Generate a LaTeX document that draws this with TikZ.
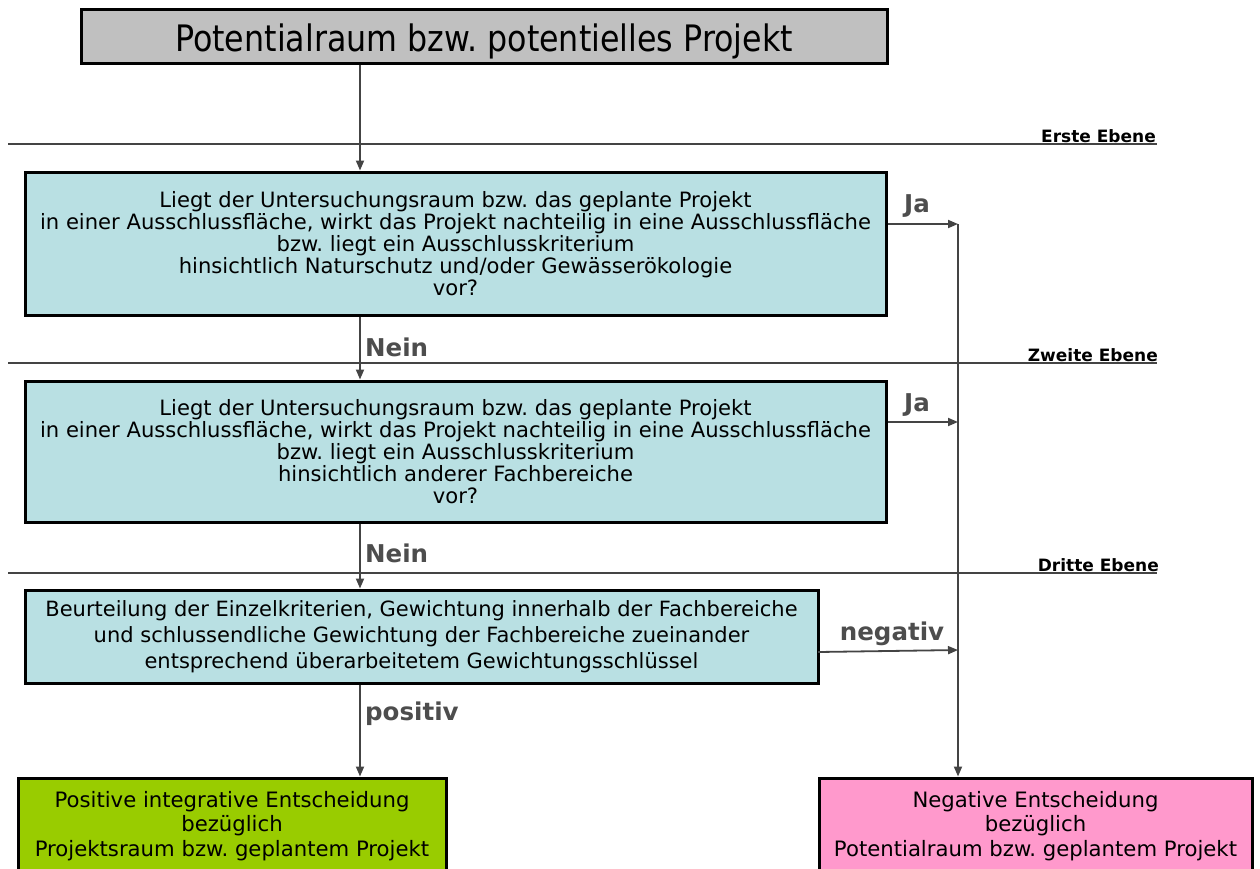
\documentclass[tikz,border=0pt]{standalone}
\usepackage{fontspec}
\setmainfont{DejaVu Sans}
\usetikzlibrary{arrows.meta}
\frenchspacing
\definecolor{boxgray}{HTML}{C0C0C0}
\definecolor{boxcyan}{HTML}{B9E0E3}
\definecolor{boxgreen}{HTML}{99CC00}
\definecolor{boxpink}{HTML}{FF99CC}
\definecolor{lblgray}{HTML}{4D4D4D}
\definecolor{linegray}{HTML}{444444}
\tikzset{
  box/.style={draw=black, line width=3pt, inner sep=0pt, align=center},
  qtext/.style={font=\fontsize{21.1}{22}\selectfont},
  conn/.style={draw=linegray, line width=1.8pt, -{Triangle[length=10pt,width=8pt]}},
  lbl/.style={text=lblgray, font=\bfseries\fontsize{24.5}{26}\selectfont, inner sep=0pt},
  ebene/.style={draw=linegray, line width=1.4pt},
  elbl/.style={font=\bfseries\fontsize{17}{18}\selectfont, inner sep=1pt, anchor=south east}
}
\begin{document}
\begin{tikzpicture}[x=1pt,y=-1pt]
\frenchspacing
\useasboundingbox (0,0) rectangle (1260,868);
\fill[white] (0,0) rectangle (1260,868);
\clip (0,0) rectangle (1260,868);

% level lines
\draw[ebene] (8,144) -- (1157,144);
\draw[ebene] (8,363) -- (1157,363);
\draw[ebene] (8,573) -- (1157,573);
\node[elbl] (e1) at (1157,144) {Erste Ebene};
\node[elbl] (e2) at (1159,363) {Zweite Ebene};
\node[elbl] (e3) at (1160,573) {Dritte Ebene};

% boxes
\node[box, fill=boxgray, minimum width=806pt, minimum height=54pt,
      text height=33pt, text depth=1.6pt,
      font=\fontsize{31.7}{34}\selectfont] (top) at (484,36) {\scalebox{1}[1.15]{Potentialraum bzw. potentielles Projekt}};
\node[box, fill=boxcyan, minimum width=861pt, minimum height=143pt, qtext] (b1) at (455.5,243.5)
  {Liegt der Untersuchungsraum bzw. das geplante Projekt\\
   in einer Ausschlussfläche, wirkt das Projekt nachteilig in eine Ausschlussfläche\\
   bzw. liegt ein Ausschlusskriterium\\
   hinsichtlich Naturschutz und/oder Gewässerökologie\\
   vor?};
\node[box, fill=boxcyan, minimum width=861pt, minimum height=141pt, qtext] (b2) at (455.5,451.5)
  {Liegt der Untersuchungsraum bzw. das geplante Projekt\\
   in einer Ausschlussfläche, wirkt das Projekt nachteilig in eine Ausschlussfläche\\
   bzw. liegt ein Ausschlusskriterium\\
   hinsichtlich anderer Fachbereiche\\
   vor?};
\node[box, fill=boxcyan, minimum width=793pt, minimum height=93pt,
      font=\fontsize{21}{26}\selectfont] (b3) at (421.5,636.5)
  {Beurteilung der Einzelkriterien, Gewichtung innerhalb der Fachbereiche\\
   und schlussendliche Gewichtung der Fachbereiche zueinander\\
   entsprechend überarbeitetem Gewichtungsschlüssel};
\node[box, fill=boxgreen, minimum width=428pt, minimum height=96pt,
      font=\fontsize{21.2}{24.5}\selectfont] (pos) at (232,826)
  {Positive integrative Entscheidung\\ bezüglich\\ Projektsraum bzw. geplantem Projekt};
\node[box, fill=boxpink, minimum width=433pt, minimum height=96pt,
      font=\fontsize{21.2}{24.5}\selectfont] (neg) at (1035.5,826)
  {Negative Entscheidung\\ bezüglich\\ Potentialraum bzw. geplantem Projekt};

% connectors
\coordinate (cx) at (360,0);
\coordinate (ja1) at (958,224);
\coordinate (ja2) at (958,422);
\coordinate (neg3) at (958,650);
\coordinate (b3out) at (818,652);
\draw[conn] (top.south -| cx) -- (b1.north -| cx);
\draw[conn] (b1.south -| cx) -- (b2.north -| cx);
\draw[conn] (b2.south -| cx) -- (b3.north -| cx);
\draw[conn] (b3.south -| cx) -- (pos.north -| cx);
\draw[conn] (b1.east |- ja1) -- (ja1);
\draw[conn] (b2.east |- ja2) -- (ja2);
\draw[conn] (b3out) -- (neg3);
\draw[conn] (ja1) -- (neg.north -| ja1);

% labels
\node[lbl] (l1) at (917,206) {Ja};
\node[lbl] (l2) at (917,405) {Ja};
\node[lbl, anchor=west] (l3) at (365,347) {Nein};
\node[lbl, anchor=west] (l4) at (365,553) {Nein};
\node[lbl] (l5) at (892,634) {negativ};
\node[lbl, anchor=west] (l6) at (365,714) {positiv};
\end{tikzpicture}
\end{document}
